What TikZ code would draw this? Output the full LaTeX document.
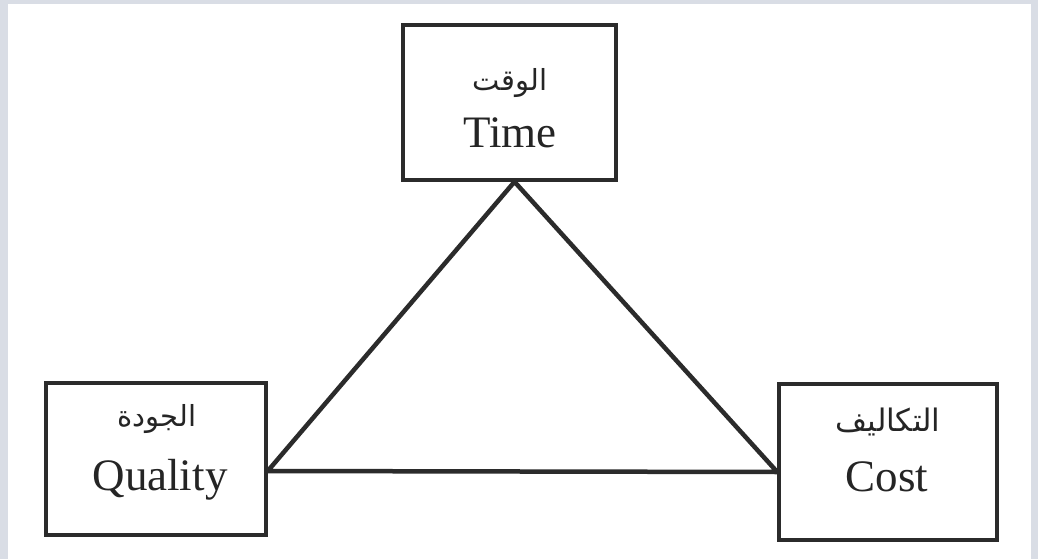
\documentclass[tikz,border=0pt]{standalone}
\usepackage{fontspec}
\setmainfont{Liberation Serif}
\newfontfamily\arabicfont[Script=Arabic]{DejaVu Sans}
\TeXXeTstate=1
\definecolor{frame}{HTML}{D9DDE5}
\definecolor{ink}{HTML}{2B2B2B}
\definecolor{txt}{HTML}{252525}
\begin{document}
\begin{tikzpicture}[x=1pt,y=-1pt,
  box/.style={draw=ink,line width=3.5pt,minimum width=#1,inner sep=0pt},
  lat/.style={anchor=base,text=txt,font=\fontsize{45}{50}\selectfont},
  arb/.style={anchor=base,text=txt,font=\arabicfont\fontsize{#1}{34}\selectfont},
  tri/.style={draw=ink,line width=4.5pt,line join=round}]
\fill[frame] (0,0) rectangle (1038,559);
\fill[white] (8,4) rectangle (1031,559);
\useasboundingbox (0,0) rectangle (1038,559);
% boxes
\node[box=213pt,minimum height=155pt] (T) at (509.5,102.5) {};
\node[box=220pt,minimum height=152pt] (Q) at (156,459) {};
\node[box=218pt,minimum height=156pt] (C) at (888,462) {};
% texts
\node[arb=29] (ta) at (510,91) {\beginR الوقت\endR};
\node[lat] (tl) at (510,147) {Time};
\node[arb=29] (qa) at (157,426) {\beginR الجودة\endR};
\node[lat] (ql) at (160,490) {Quality};
\node[arb=31] (ca) at (888,431) {\beginR التكاليف\endR};
\node[lat] (cl) at (887,491) {Cost};
% triangle
\coordinate (tv) at ([xshift=5pt]T.south);
\coordinate (qv) at ([yshift=-12pt]Q.east);
\coordinate (cv) at ([yshift=-10pt]C.west);
\draw[tri] (tv) -- (qv) -- (cv) -- cycle;
\end{tikzpicture}
\end{document}
